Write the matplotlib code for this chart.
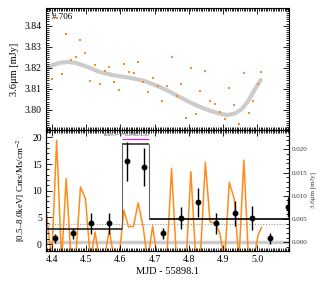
import matplotlib

matplotlib.use("Agg")
import matplotlib.pyplot as plt
from matplotlib.ticker import MultipleLocator

plt.rcParams["font.family"] = ["Liberation Serif", "DejaVu Serif"]
plt.rcParams["mathtext.fontset"] = "stix"

# 3.6 micron light curve (top panel)
ir_time = [4.3846, 4.3991, 4.4137, 4.4282, 4.4416, 4.4561, 4.4698, 4.4834, 4.4980, 4.5125,
           4.5259, 4.5395, 4.5541, 4.5677, 4.5823, 4.5956, 4.6102, 4.6238, 4.6384, 4.6520,
           4.6666, 4.6799, 4.6945, 4.7090, 4.7218, 4.7352, 4.7497, 4.7642, 4.7779, 4.7924,
           4.8061, 4.8206, 4.8340, 4.8485, 4.8622, 4.8767, 4.8904, 4.9049, 4.9183, 4.9328,
           4.9465, 4.9610, 4.9747, 4.9892, 5.0026, 5.0125]
ir_flux = [3.8245, 3.8147, 3.8435, 3.8169, 3.8360, 3.8238, 3.8251, 3.8332, 3.8272, 3.8139,
           3.8212, 3.8125, 3.8183, 3.8202, 3.8133, 3.8095, 3.8219, 3.8179, 3.8175, 3.8227,
           3.8131, 3.8084, 3.8153, 3.8114, 3.8043, 3.8112, 3.8250, 3.8066, 3.8122, 3.7962,
           3.8199, 3.7983, 3.8090, 3.8183, 3.8043, 3.8027, 3.7992, 3.7956, 3.8103, 3.8024,
           3.7932, 3.8177, 3.7984, 3.8044, 3.8122, 3.8179]

# smooth trend through the IR data
trend_time = [4.3826, 4.4000, 4.4233, 4.4465, 4.4698, 4.5047, 4.5395, 4.5831, 4.6267, 4.6703,
              4.7140, 4.7430, 4.7721, 4.8012, 4.8302, 4.8593, 4.8884, 4.9116, 4.9349, 4.9552,
              4.9727, 4.9901, 5.0105]
trend_flux = [3.8192, 3.8212, 3.8224, 3.8228, 3.8223, 3.8204, 3.8180, 3.8164, 3.8153, 3.8138,
              3.8110, 3.8088, 3.8063, 3.8038, 3.8016, 3.7998, 3.7983, 3.7976, 3.7983, 3.8005,
              3.8040, 3.8090, 3.8142]

# IR residual flux, right axis of bottom panel [mJy]
ir_resid = [0.0058, -0.004, 0.0220, -0.004, 0.0137, -0.004, -0.003, 0.0119, 0.0094, -0.004,
            0.0022, -0.004, -0.003, 0.0026, -0.004, -0.004, 0.0069, 0.0033, 0.0034, 0.0085,
            0.0033, -0.004, 0.0035, -0.004, -0.002, -0.004, 0.0159, -0.004, -0.002, -0.004,
            0.0152, -0.004, -0.003, 0.0172, 0.0044, 0.0041, 0.0020, -0.004, 0.0129, 0.0094,
            -0.004, 0.0177, -0.004, -0.004, 0.0015, 0.0032]

# X-ray counts (bottom panel)
xr_time = [4.409, 4.462, 4.515, 4.567, 4.619, 4.670, 4.724, 4.777, 4.828, 4.880, 4.934,
           4.985, 5.037, 5.089]
xr_rate = [1.07, 2.0, 3.9, 3.9, 15.5, 14.5, 2.0, 4.9, 7.8, 3.9, 5.75, 4.9, 1.07, 6.9]
xr_err = [0.9, 1.1, 2.0, 2.0, 3.7, 3.6, 1.0, 2.1, 2.8, 2.0, 2.3, 2.2, 1.0, 1.9]

# Bayesian-block levels
block_edges = [4.3826, 4.606, 4.683, 5.095]
block_rate = [2.8, 18.7, 4.7]

xlim = (4.3826, 5.093)

fig = plt.figure(figsize=(3.27, 2.86), dpi=100)
ax_top = fig.add_axes([0.1407, 0.5455, 0.7431, 0.4266])
ax_bot = fig.add_axes([0.1407, 0.1224, 0.7431, 0.4231])
ax_r = ax_bot.twinx()


def style(ax, top=True, right=True):
    ax.tick_params(which="both", direction="in", top=top, right=right, labelsize=7,
                   width=0.6, pad=3)
    ax.tick_params(which="major", length=4)
    ax.tick_params(which="minor", length=2)
    for s in ax.spines.values():
        s.set_linewidth(0.8)


ax_top.plot(trend_time, trend_flux, color="#cccccc", lw=3, solid_capstyle="round", zorder=1)
ax_top.plot(ir_time, ir_flux, "s", color="#ff8c1a", ms=2, mew=0, zorder=2)
ax_top.set_xlim(xlim)
ax_top.set_ylim(3.7905, 3.8484)
ax_top.yaxis.set_major_locator(MultipleLocator(0.01))
ax_top.yaxis.set_minor_locator(MultipleLocator(0.001))
ax_top.xaxis.set_major_locator(MultipleLocator(0.1))
ax_top.xaxis.set_minor_locator(MultipleLocator(0.005))
ax_top.set_xticklabels([])
ax_top.yaxis.set_major_formatter(plt.FormatStrFormatter("%.2f"))
ax_top.set_ylabel("3.6μm [mJy]", fontsize=7.5, labelpad=4)
ax_top.text(0.025, 0.96, "# 706", transform=ax_top.transAxes, fontsize=6.5, va="top")
style(ax_top)

# right axis: IR residuals and reference lines
ax_r.axhline(0.0, color="#cccccc", lw=2.5, zorder=1)
ax_r.axhline(0.0039, color="#999999", lw=0.8, ls=(0, (1, 1.5)), zorder=1)
ax_r.plot(ir_time, ir_resid, color="#ff8c1a", lw=1.1, zorder=2)
ax_r.set_ylim(-0.0019, 0.0242)
ax_r.yaxis.set_major_locator(MultipleLocator(0.005))
ax_r.yaxis.set_minor_locator(MultipleLocator(0.001))
ax_r.yaxis.set_major_formatter(plt.FormatStrFormatter("%.3f"))
ax_r.tick_params(which="both", direction="in", labelsize=5, width=0.6, pad=2,
                 labelcolor="#333333")
ax_r.tick_params(which="major", length=4)
ax_r.tick_params(which="minor", length=2)
ax_r.set_ylabel("3.6μm [mJy]", fontsize=5, labelpad=2, color="#333333")

# left axis: X-ray counts and blocks
ax_bot.set_zorder(ax_r.get_zorder() + 1)
ax_bot.patch.set_visible(False)
ax_bot.hlines(block_rate[0], block_edges[0], block_edges[1], color="#222222", lw=1.2)
ax_bot.hlines(block_rate[1], block_edges[1], block_edges[2], color="#333333", lw=1.2)
ax_bot.hlines(block_rate[2], block_edges[2], block_edges[3], color="black", lw=1.2)
ax_bot.vlines(block_edges[1], block_rate[0], block_rate[1], color="#666666", lw=0.8)
ax_bot.vlines(block_edges[2], block_rate[2], block_rate[1], color="#666666", lw=0.8)
ax_bot.errorbar(xr_time, xr_rate, yerr=xr_err, fmt="o", color="black", ms=3.2,
                elinewidth=1.0, capsize=0, zorder=5, clip_on=True)
ax_bot.set_xlim(xlim)
ax_bot.set_ylim(-1.3, 21.4)
ax_bot.xaxis.set_major_locator(MultipleLocator(0.1))
ax_bot.xaxis.set_minor_locator(MultipleLocator(0.005))
ax_bot.yaxis.set_major_locator(MultipleLocator(5))
ax_bot.yaxis.set_minor_locator(MultipleLocator(1))
ax_bot.tick_params(which="both", direction="in", top=True, right=False, labelsize=7,
                   width=0.6, pad=3)
ax_bot.tick_params(which="major", length=4)
ax_bot.tick_params(which="minor", length=2)
ax_bot.set_ylabel("[0.5–8.0keV] Cnts/Ms/cm$^{-2}$", fontsize=6.5, labelpad=4)
ax_bot.set_xlabel("MJD - 55898.1", fontsize=7.5, labelpad=2)
ax_bot.text(4.548, 20.6, r"$\kappa_s/I_{0.5-8}$=0.8480130", fontsize=4, ha="left",
            va="center", color="#333333")
ax_bot.hlines(19.8, 4.606, 4.683, color="#e020e0", lw=0.9)
for s in ax_bot.spines.values():
    s.set_linewidth(0.8)

fig.savefig("out.png", dpi=100)
